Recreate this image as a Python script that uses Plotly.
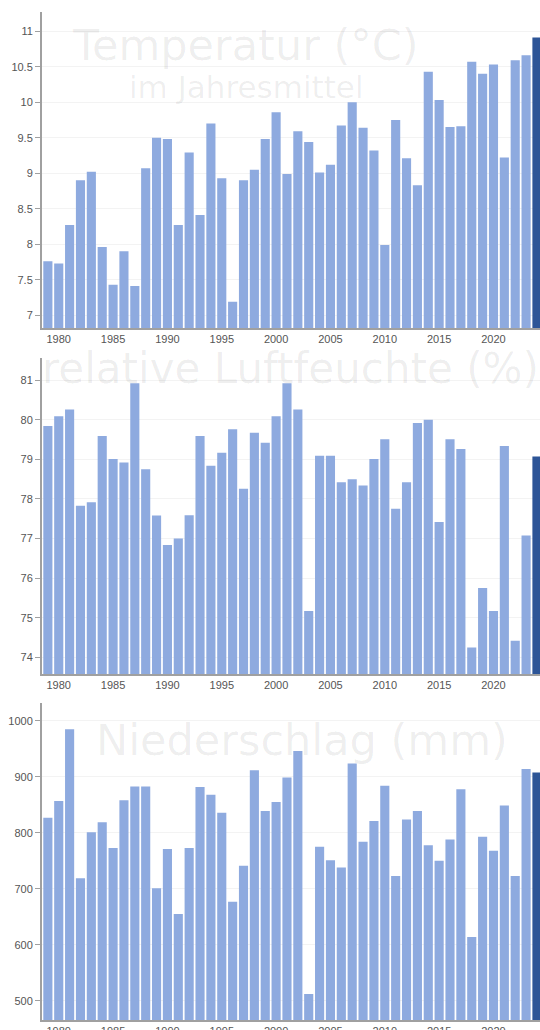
import plotly.graph_objects as go

years = list(range(1979, 2025))

temperatur = [7.76, 7.73, 8.27, 8.90, 9.02, 7.96, 7.43, 7.90, 7.41, 9.07,
              9.50, 9.48, 8.27, 9.29, 8.41, 9.70, 8.93, 7.19, 8.90, 9.05,
              9.48, 9.86, 8.99, 9.59, 9.44, 9.01, 9.12, 9.67, 10.00, 9.64,
              9.32, 7.99, 9.75, 9.21, 8.83, 10.43, 10.03, 9.65, 9.66, 10.57,
              10.40, 10.53, 9.22, 10.59, 10.66, 10.91]

luftfeuchte = [79.84, 80.09, 80.26, 77.83, 77.92, 79.59, 79.01, 78.92, 80.92, 78.75,
               77.58, 76.84, 77.00, 77.59, 79.59, 78.84, 79.17, 79.76, 78.26, 79.67,
               79.42, 80.09, 80.92, 80.26, 75.17, 79.09, 79.09, 78.42, 78.50, 78.34,
               79.01, 79.51, 77.75, 78.42, 79.92, 80.00, 77.42, 79.51, 79.26, 74.25,
               75.75, 75.17, 79.34, 74.42, 77.08, 79.07]

niederschlag = [827, 857, 985, 719, 801, 819, 773, 858, 883, 883,
                701, 771, 655, 773, 882, 868, 836, 677, 741, 912,
                839, 855, 899, 946, 512, 775, 751, 738, 924, 784,
                821, 884, 723, 824, 839, 778, 750, 788, 878, 614,
                793, 768, 849, 723, 914, 908]

x_ticks = [1980, 1985, 1990, 1995, 2000, 2005, 2010, 2015, 2020]
temp_ticks = [7, 7.5, 8, 8.5, 9, 9.5, 10, 10.5, 11]
hum_ticks = [74, 75, 76, 77, 78, 79, 80, 81]
rain_ticks = [500, 600, 700, 800, 900, 1000]

LIGHT = "#8eaadf"
DARK = "#2d5597"
colors = [LIGHT] * (len(years) - 1) + [DARK]

W, H = 540, 1030

def py(px):
    return 1 - px / H

fig = go.Figure()

panels = [
    (temperatur, "", (12, 328), (6.82, 11.27), temp_ticks),
    (luftfeuchte, "2", (358, 674), (73.58, 81.56), hum_ticks),
    (niederschlag, "3", (703, 1020), (465.5, 1032), rain_ticks),
]

tickfont = dict(size=11, color="#555", family="Liberation Sans, Arial")

for vals, suf, (top, bot), yr, yt in panels:
    fig.add_trace(go.Bar(
        x=years, y=vals, marker=dict(color=colors, line=dict(width=0)),
        xaxis="x" + suf, yaxis="y" + suf, showlegend=False,
    ))
    fig.update_layout(**{
        "xaxis" + suf: dict(
            domain=[42 / W, 1], range=[1978.46, 2024.28], anchor="y" + suf,
            tickvals=x_ticks, showgrid=False, showline=True, linecolor="#a0a0a0",
            linewidth=2, ticks="", tickfont=tickfont, zeroline=False,
            automargin=False,
        ),
        "yaxis" + suf: dict(
            domain=[py(bot), py(top)], range=list(yr), anchor="x" + suf,
            tickvals=yt, showgrid=True, gridcolor="#f3f3f3", gridwidth=1,
            showline=True, linecolor="#a0a0a0", linewidth=2,
            ticks="outside", ticklen=5, tickcolor="#a0a0a0",
            tickfont=tickfont, zeroline=False, automargin=False,
        ),
    })

wm = dict(color="rgba(0,0,0,0.07)", family="DejaVu Sans")
annos = [
    ("Temperatur (°C)", 245, 45, 43),
    ("im Jahresmittel", 246, 87, 31),
    ("relative Luftfeuchte (%)", 290, 368, 42),
    ("Niederschlag (mm)", 302, 740, 43),
]
for t, x, y, s in annos:
    fig.add_annotation(text=t, x=x / W, y=py(y), xref="paper", yref="paper",
                       showarrow=False, xanchor="center", yanchor="middle",
                       font=dict(size=s, **wm))

fig.update_layout(
    width=W, height=H, margin=dict(l=0, r=0, t=0, b=0),
    paper_bgcolor="white", plot_bgcolor="white", bargap=0.16,
)

fig.write_html(
    "out.html",
    config={"displayModeBar": False},
    post_script="document.body.style.margin='0';document.body.style.overflow='hidden';",
)
